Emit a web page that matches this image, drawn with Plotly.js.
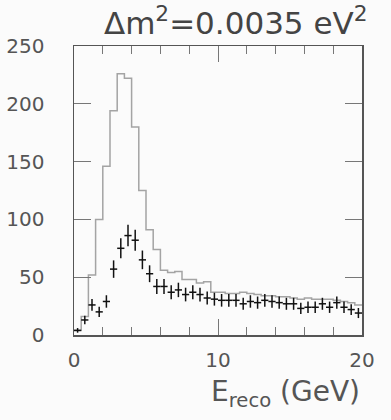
<!DOCTYPE html>
<html>
<head>
<meta charset="utf-8">
<script src="https://cdn.plot.ly/plotly-3.0.1.min.js"></script>
<style>
  html, body { margin: 0; padding: 0; background: #fbfbfb; }
  #chart { width: 391px; height: 420px; }
</style>
</head>
<body>
<div id="chart"></div>
<script>
// 40 bins of 0.5 GeV from 0 to 20 GeV
const binWidth = 0.5;
const nBins = 40;

// expected spectrum (grey histogram)
const expected = [4, 16, 52, 100, 146, 194, 226, 222, 180, 125,
                  91, 74, 56, 54, 55, 48, 48, 45, 46, 37,
                  37, 36, 36, 37, 36, 35, 34, 34, 33, 33,
                  32, 31, 32, 31, 31, 31, 30, 29, 28, 26];

// oscillated spectrum (points with errors)
const observed = [4, 13, 26, 20, 29, 57, 75, 86, 82, 65,
                  53, 42, 42, 37, 39, 35, 37, 35, 32, 31,
                  30, 30, 30, 27, 29, 28, 30, 29, 28, 27,
                  27, 23, 24, 24, 27, 24, 28, 24, 22, 19];

const xTicks = [0, 10, 20];
const yTicks = [0, 50, 100, 150, 200, 250];

// bin edges & centres
const edges = [];
const centres = [];
for (let i = 0; i <= nBins; i++) edges.push(i * binWidth);
for (let i = 0; i < nBins; i++) centres.push((i + 0.5) * binWidth);

const histY = expected.concat([expected[expected.length - 1]]);

const traceHist = {
    type: 'scatter',
    mode: 'lines',
    x: edges,
    y: histY,
    line: { shape: 'hv', color: '#a4a4a4', width: 1.5 },
    hoverinfo: 'skip'
};

const tracePoints = {
    type: 'scatter',
    mode: 'markers',
    x: centres,
    y: observed,
    marker: { size: 1, color: '#111' },
    error_x: { type: 'constant', value: binWidth / 2, width: 0, thickness: 1.5, color: '#111' },
    error_y: { type: 'sqrt', width: 0, thickness: 1.5, color: '#111' }
};

const axisCommon = {
    showgrid: false,
    zeroline: false,
    showline: true,
    linecolor: '#555',
    linewidth: 1.5,
    mirror: 'allticks',
    ticks: 'inside',
    tickcolor: '#777',
    tickwidth: 1,
    tickfont: { family: 'DejaVu Sans', size: 20, color: '#555' },
    fixedrange: true
};

const layout = {
    width: 391,
    height: 420,
    margin: { l: 74, r: 29, t: 46, b: 85 },
    paper_bgcolor: '#fbfbfb',
    plot_bgcolor: '#fbfbfb',
    showlegend: false,
    title: {
        text: 'Δm<sup>2</sup>=0.0035 eV<sup>2</sup>',
        font: { family: 'DejaVu Sans', size: 31, color: '#444' },
        x: 0.94, xanchor: 'right', xref: 'container',
        y: 0.945, yanchor: 'middle', yref: 'container'
    },
    xaxis: Object.assign({}, axisCommon, {
        range: [0, 20],
        tickvals: xTicks,
        ticktext: xTicks.map(String),
        ticklen: 16,
        ticklabelstandoff: 6,
        minor: { dtick: 2, tick0: 0, ticklen: 8, ticks: 'inside', tickcolor: '#777', tickwidth: 1 }
    }),
    yaxis: Object.assign({}, axisCommon, {
        range: [0, 250],
        tickvals: yTicks,
        ticktext: yTicks.map(String),
        ticklen: 17,
        ticklabelstandoff: 24
    }),
    annotations: [{
        text: 'E<sub>reco</sub> (GeV)',
        xref: 'paper', yref: 'paper',
        x: 1.0, y: -0.272,
        xanchor: 'right', yanchor: 'bottom',
        showarrow: false,
        font: { family: 'DejaVu Sans', size: 28, color: '#555' }
    }]
};

Plotly.newPlot('chart', [traceHist, tracePoints], layout, { staticPlot: true, displayModeBar: false });
</script>
</body>
</html>
